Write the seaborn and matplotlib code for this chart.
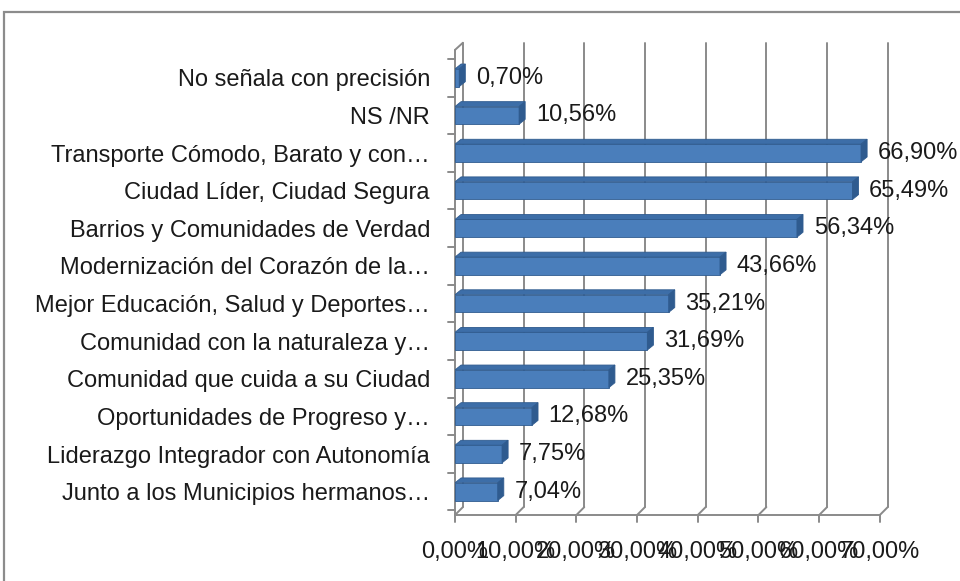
import matplotlib
matplotlib.use("Agg")
import matplotlib.pyplot as plt
import seaborn as sns
import pandas as pd
from matplotlib.patches import Polygon, Rectangle

# datos del gráfico
categorias = [
    "No señala con precisión",
    "NS /NR",
    "Transporte Cómodo, Barato y con…",
    "Ciudad Líder, Ciudad Segura",
    "Barrios y Comunidades de Verdad",
    "Modernización del Corazón de la…",
    "Mejor Educación, Salud y Deportes…",
    "Comunidad con la naturaleza y…",
    "Comunidad que cuida a su Ciudad",
    "Oportunidades de Progreso y…",
    "Liderazgo Integrador con Autonomía",
    "Junto a los Municipios hermanos…",
]
porcentajes = [0.70, 10.56, 66.90, 65.49, 56.34, 43.66, 35.21, 31.69, 25.35, 12.68, 7.75, 7.04]
ticks_x = [0, 10, 20, 30, 40, 50, 60, 70]
etiquetas_x = ["0,00%", "10,00%", "20,00%", "30,00%", "40,00%", "50,00%", "60,00%", "70,00%"]

df = pd.DataFrame({"cat": categorias, "pct": porcentajes})

sns.set_theme(style="white")
plt.rcParams["font.family"] = ["Liberation Sans", "DejaVu Sans"]

fig = plt.figure(figsize=(9.6, 5.81), dpi=100)
ax = fig.add_axes([455 / 960, 1 - 515 / 581, 437 / 960, 473 / 581])

gris = "#8a8a8a"
azul = "#4a7ebb"
azul_lado = "#2f5b8f"
azul_top = "#3d6ea8"
texto = "#1a1a1a"
fs = 17

sns.barplot(data=df, x="pct", y="cat", orient="h", color=azul, width=0.47,
            saturation=1, ax=ax, zorder=3)

ymin, ymax = 11.62, -0.95
ax.set_xlim(0, 72)
ax.set_ylim(ymin, ymax)

# pared del fondo: líneas de cuadrícula en perspectiva
gdx, gdy = 1.3, 0.21
for v in ticks_x:
    ax.plot([v + gdx, v + gdx], [ymax + 0.02, ymin - gdy], color=gris, lw=1.4,
            zorder=1, clip_on=False)
    ax.plot([v + gdx, v], [ymin - gdy, ymin], color=gris, lw=1.4, zorder=1, clip_on=False)
    ax.plot([v, v], [ymin, ymin + 0.18], color=gris, lw=1.4, zorder=1, clip_on=False)
# eje inferior frontal y pared izquierda
ax.plot([0, 70], [ymin, ymin], color=gris, lw=1.4, clip_on=False)
ax.plot([0, 0], [ymin, ymax + gdy], color=gris, lw=1.4, clip_on=False)
ax.plot([0, gdx], [ymax + gdy, ymax + 0.02], color=gris, lw=1.4, clip_on=False)
for b in [i - 0.5 for i in range(len(categorias) + 1)]:
    ax.plot([-1.1, 0], [b, b], color=gris, lw=1.4, clip_on=False)

# caras 3D de las barras
bdx, bdy = 1.0, 0.13
for p in ax.patches[:len(porcentajes)]:
    w, y0, h = p.get_width(), p.get_y(), p.get_height()
    p.set_edgecolor(azul_lado)
    p.set_linewidth(0.6)
    ax.add_patch(Polygon([(0, y0), (w, y0), (w + bdx, y0 - bdy), (bdx, y0 - bdy)],
                         closed=True, facecolor=azul_top, edgecolor=azul_lado, lw=0.6, zorder=3))
    ax.add_patch(Polygon([(w, y0), (w + bdx, y0 - bdy), (w + bdx, y0 + h - bdy), (w, y0 + h)],
                         closed=True, facecolor=azul_lado, edgecolor=azul_lado, lw=0.6, zorder=3))

ax.bar_label(ax.containers[0], labels=[f"{v:.2f}%".replace(".", ",") for v in porcentajes],
             padding=12, fontsize=fs, color=texto)

ax.set_xticks(ticks_x)
ax.set_xticklabels(etiquetas_x, fontsize=fs, color=texto)
ax.tick_params(axis="x", length=0, pad=19)
ax.tick_params(axis="y", length=0, pad=18, labelsize=fs, labelcolor=texto)
ax.set_xlabel("")
ax.set_ylabel("")
for s in ax.spines.values():
    s.set_visible(False)
ax.grid(False)
ax.patch.set_alpha(0)

# borde exterior del gráfico
fig.patches.append(Rectangle((4 / 960, -0.1), 1.2, 1.1 - 12 / 581, transform=fig.transFigure,
                             fill=False, edgecolor="#8c8c8c", lw=1.6))

fig.savefig("out.png", dpi=100)
